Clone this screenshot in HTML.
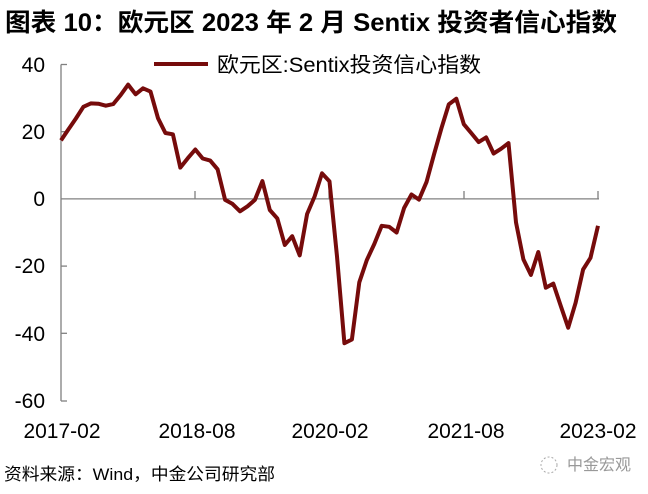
<!DOCTYPE html>
<html><head><meta charset="utf-8"><style>
html,body{margin:0;padding:0;background:#fff;width:648px;height:494px;overflow:hidden}
svg{display:block}
text{font-family:"Liberation Sans","Noto Sans CJK SC",sans-serif;fill:#000}
</style></head><body>
<svg id="s" width="648" height="494" xmlns="http://www.w3.org/2000/svg">
<text x="5" y="31" font-size="25" font-weight="bold" textLength="612" lengthAdjust="spacingAndGlyphs">图表 10：欧元区 2023 年 2 月 Sentix 投资者信心指数</text>
<g stroke="#808080" stroke-width="1.3" fill="none">
<line x1="61" y1="64.5" x2="61" y2="401"/>
<line x1="61" y1="64.5" x2="67" y2="64.5"/>
<line x1="61" y1="131.7" x2="67" y2="131.7"/>
<line x1="61" y1="266.1" x2="67" y2="266.1"/>
<line x1="61" y1="333.3" x2="67" y2="333.3"/>
<line x1="61" y1="401" x2="67" y2="401"/>
<line x1="61" y1="198.9" x2="599" y2="198.9"/>
<line x1="195" y1="198.9" x2="195" y2="191"/>
<line x1="329" y1="198.9" x2="329" y2="191"/>
<line x1="464" y1="198.9" x2="464" y2="191"/>
<line x1="598" y1="198.9" x2="598" y2="191"/>
</g>
<g font-size="21" text-anchor="end">
<text x="45" y="72">40</text>
<text x="45" y="139">20</text>
<text x="45" y="206">0</text>
<text x="45" y="273">-20</text>
<text x="45" y="341">-40</text>
<text x="45" y="408">-60</text>
</g>
<g font-size="21" text-anchor="middle">
<text x="62" y="438">2017-02</text>
<text x="197" y="438">2018-08</text>
<text x="330" y="438">2020-02</text>
<text x="466" y="438">2021-08</text>
<text x="598" y="438">2023-02</text>
</g>
<line x1="154" y1="64" x2="208" y2="64" stroke="#760b0b" stroke-width="4"/>
<text x="217" y="72" font-size="21" textLength="264" lengthAdjust="spacingAndGlyphs">欧元区:Sentix投资信心指数</text>
<polyline id="p" fill="none" stroke="#760b0b" stroke-width="4" stroke-linejoin="round"/>
<text x="4" y="480" font-size="17" textLength="271" lengthAdjust="spacingAndGlyphs">资料来源：Wind，中金公司研究部</text>
<text x="567" y="470" font-size="16" style="fill:#999">中金宏观</text>
<circle cx="549" cy="465" r="8" fill="none" stroke="#aaa" stroke-width="1" stroke-dasharray="2 2"/>
</svg>
<script>
var v=[17.4,20.7,23.9,27.4,28.4,28.3,27.7,28.2,30.9,34.0,31.1,32.9,31.9,24.0,19.6,19.2,9.3,12.1,14.7,12.0,11.4,8.8,-0.3,-1.5,-3.7,-2.2,-0.3,5.3,-3.3,-5.8,-13.7,-11.1,-16.8,-4.5,0.7,7.6,5.2,-17.1,-42.9,-41.8,-24.8,-18.2,-13.4,-8.0,-8.3,-10.0,-2.7,1.3,-0.2,5.0,13.1,21.0,28.1,29.8,22.2,19.6,16.9,18.3,13.5,14.9,16.6,-7.0,-18.0,-22.6,-15.8,-26.4,-25.2,-31.8,-38.3,-30.9,-21.0,-17.5,-8.0];
var pts=v.map(function(y,i){return (61+i*537/72).toFixed(1)+","+(198.9-y*3.363).toFixed(1)}).join(" ");
document.getElementById("p").setAttribute("points",pts);
</script>
</body></html>
